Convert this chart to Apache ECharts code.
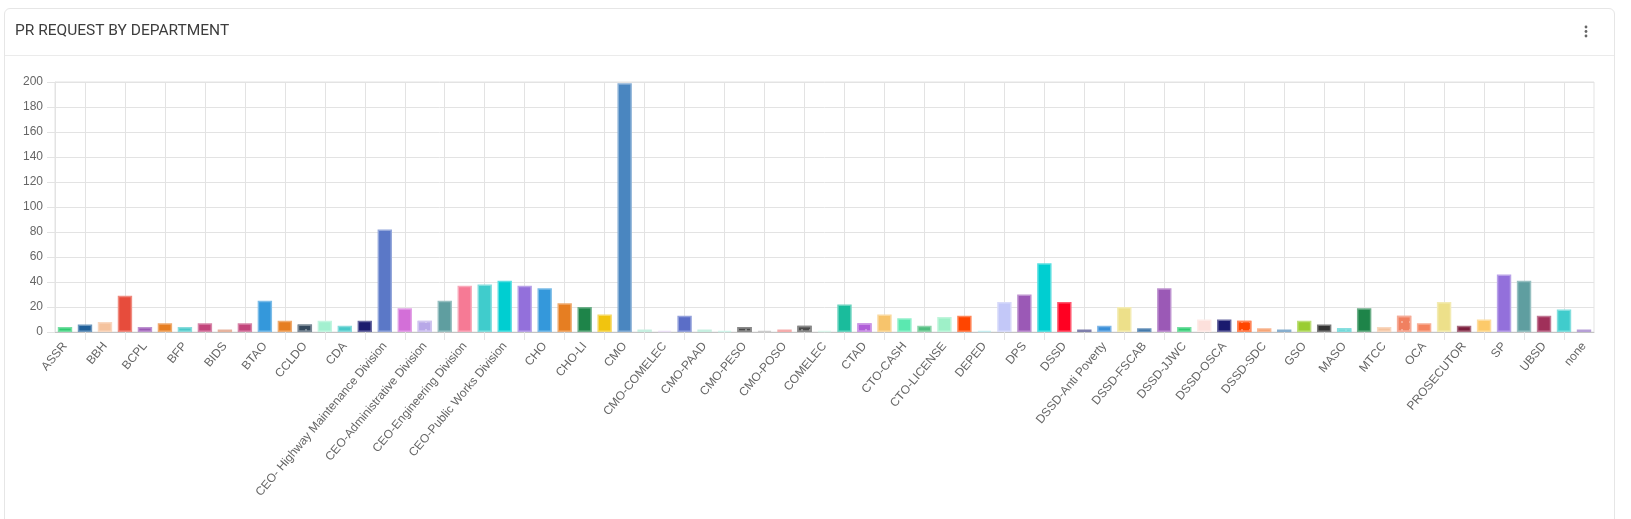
<!DOCTYPE html>
<html>
<head>
    <meta charset="utf-8">
    <title>PR Request by Department</title>
    <script src="https://cdn.jsdelivr.net/npm/echarts@6/dist/echarts.min.js"></script>
    <style>
        html, body { margin: 0; padding: 0; background: #fff; }
        #card { position: absolute; left: 4px; top: 8px; width: 1611px; height: 560px;
                border: 1px solid #e6e6e6; border-radius: 6px; box-sizing: border-box; }
        #card .hd { height: 46px; border-bottom: 1px solid #ebebeb; }
        #main { position: absolute; left: 0; top: 0; width: 1631px; height: 519px; }
    </style>
</head>
<body>
    <div id="card"><div class="hd"></div></div>
    <div id="main"></div>
    <script type="text/javascript">
        // departments (only every other label is printed on the axis)
        var categories = [
            'ASSR', 'BAO', 'BBH', 'BCLD', 'BCPL', 'BDRRMO', 'BFP', 'BHS', 'BIDS', 'BPLO',
            'BTAO', 'CAO', 'CCLDO', 'CCRO', 'CDA', 'CDRRMO',
            'CEO- Highway Maintenance Division', 'CEO- Motorpool Division',
            'CEO-Administrative Division', 'CEO-Building Official Division',
            'CEO-Engineering Division', 'CEO-Planning Division', 'CEO-Public Works Division',
            'CGSO', 'CHO', 'CHO-DENTAL', 'CHO-LI', 'CLO', 'CMO', 'CMO-BAC', 'CMO-COMELEC',
            'CMO-IAS', 'CMO-PAAD', 'CMO-PDAO', 'CMO-PESO', 'CMO-PIO', 'CMO-POSO', 'CMO-TMD',
            'COMELEC', 'CSWDO', 'CTAD', 'CTO', 'CTO-CASH', 'CTO-COLLECTION', 'CTO-LICENSE',
            'CVO', 'DEPED', 'DILG', 'DPS', 'DRRMO', 'DSSD', 'DSSD-AICS', 'DSSD-Anti Poverty',
            'DSSD-CDC', 'DSSD-FSCAB', 'DSSD-GAD', 'DSSD-JJWC', 'DSSD-LCPC', 'DSSD-OSCA',
            'DSSD-PDAO', 'DSSD-SDC', 'DSSD-WCD', 'GSO', 'HRMO', 'MASO', 'MENRO', 'MTCC',
            'NUTRITION', 'OCA', 'OCPD', 'PROSECUTOR', 'RTC', 'SP', 'TOURISM', 'UBSD', 'VMO', 'none'
        ];
        var prCounts = [
            4, 6, 8, 29, 4, 7, 4, 7, 2, 7,
            25, 9, 6, 9, 5, 9,
            82, 19,
            9, 25,
            37, 38, 41,
            37, 35, 23, 20, 14, 199, 2, 1,
            13, 2, 1, 4, 1, 2, 5,
            1, 22, 7, 14, 11, 5, 12,
            13, 1, 24, 30, 55, 24, 2, 5,
            20, 3, 35, 4, 10, 10,
            9, 3, 2, 9, 6, 3, 19, 4,
            13, 7, 24, 5, 10, 46, 41, 13, 18, 2
        ];
        var yMin = 0, yMax = 200, yStep = 20;

        // bar colours, one per department
        var barColors = [
            '#2ecc71', '#1f5f99', '#f5c39e', '#e74c3c', '#9b59b6', '#e67e22', '#48c9c9', '#c2457b', '#d98a6a', '#c2457b',
            '#3498db', '#e67e22', '#34495e', '#a3f0d0', '#48c9c9', '#1a1a6e',
            '#5b78c7', '#d36fd8',
            '#b8a8e8', '#5f9ea0',
            '#f67a95', '#40cccc', '#00ced1',
            '#9370db', '#3498db', '#e67e22', '#1e8449', '#f1c40f', '#4a86c0', '#a8e6cf', '#e0d0f0',
            '#5b6ec7', '#a8e6cf', '#b8f0e0', '#4a4a4a', '#b0b0b0', '#f08080', '#4a4a4a',
            '#c8f0e0', '#1abc9c', '#b05fd8', '#f7c46c', '#5be8b0', '#52be80', '#9ef0c8',
            '#ff4500', '#a8e4e8', '#c3c8f8', '#9b59b6', '#00ced1', '#ff0022', '#3a3a80', '#3a8fd8',
            '#ede08a', '#1f5f9a', '#9b59b6', '#2ecc71', '#fde0dc', '#1a1a6e',
            '#ff4500', '#f4925a', '#4682b4', '#9acd32', '#333333', '#40cccc', '#1e8449', '#f5c39e',
            '#f08060', '#f4845f', '#ede08a', '#7b1e3c', '#fdca6a', '#9370db', '#5f9ea0', '#a0305a', '#40cccc', '#8e6cc0'
        ];
        // bars drawn with a dotted texture in the original
        var dotted = [12, 18, 34, 37, 40, 59, 64, 67];

        function lighten(hex, k) {
            var n = parseInt(hex.slice(1), 16);
            var r = (n >> 16) & 255, g = (n >> 8) & 255, b = n & 255;
            r = Math.round(r + (255 - r) * k);
            g = Math.round(g + (255 - g) * k);
            b = Math.round(b + (255 - b) * k);
            return 'rgb(' + r + ',' + g + ',' + b + ')';
        }

        var barData = prCounts.map(function (v, i) {
            var style = {
                color: barColors[i],
                borderColor: lighten(barColors[i], 0.35),
                borderWidth: 1.5
            };
            if (dotted.indexOf(i) >= 0) {
                style.decal = {
                    symbol: 'rect', symbolSize: 0.5,
                    dashArrayX: 4, dashArrayY: 4,
                    color: 'rgba(255,255,255,0.35)'
                };
            }
            return { value: v, itemStyle: style };
        });

        var gridColor = '#e3e3e3';
        var oddIdx = function (i) { return i % 2 === 1; };

        var myChart = echarts.init(document.getElementById('main'));
        myChart.setOption({
            animation: false,
            title: {
                text: 'PR REQUEST BY DEPARTMENT',
                left: 15,
                top: 23,
                padding: 0,
                textStyle: {
                    fontFamily: 'Roboto',
                    fontSize: 15.5,
                    fontWeight: 'normal',
                    color: '#3d3d3d'
                }
            },
            graphic: [
                { type: 'circle', shape: { cx: 1586, cy: 27, r: 1.4 }, style: { fill: '#666' } },
                { type: 'circle', shape: { cx: 1586, cy: 31.5, r: 1.4 }, style: { fill: '#666' } },
                { type: 'circle', shape: { cx: 1586, cy: 36, r: 1.4 }, style: { fill: '#666' } }
            ],
            tooltip: {},
            grid: {
                left: 55,
                right: 37,
                top: 82,
                bottom: 187,
                show: true,
                borderColor: gridColor,
                borderWidth: 1
            },
            xAxis: {
                type: 'category',
                data: categories,
                axisLine: { lineStyle: { color: '#c4c4c4' } },
                axisTick: {
                    show: true,
                    alignWithLabel: true,
                    interval: oddIdx,
                    length: 8,
                    lineStyle: { color: gridColor }
                },
                splitLine: {
                    show: true,
                    alignWithLabel: true,
                    interval: oddIdx,
                    lineStyle: { color: gridColor }
                },
                axisLabel: {
                    interval: 1,
                    rotate: 50,
                    margin: 12,
                    color: '#666',
                    fontSize: 12,
                    fontFamily: 'Liberation Sans'
                }
            },
            yAxis: {
                type: 'value',
                min: yMin,
                max: yMax,
                interval: yStep,
                axisLine: { show: true, lineStyle: { color: gridColor } },
                axisTick: { show: true, length: 8, lineStyle: { color: gridColor } },
                splitLine: { lineStyle: { color: gridColor } },
                axisLabel: {
                    margin: 12,
                    color: '#666',
                    fontSize: 12,
                    fontFamily: 'Liberation Sans'
                }
            },
            series: [{
                name: 'PR Request',
                type: 'bar',
                barWidth: '72%',
                data: barData
            }]
        });
    </script>
</body>
</html>
